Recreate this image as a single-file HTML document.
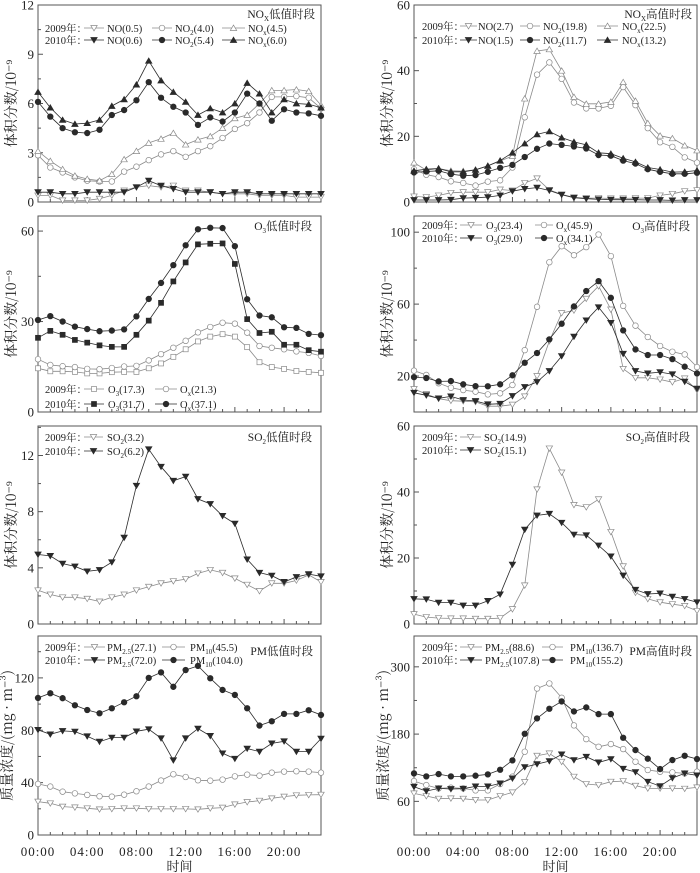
<!DOCTYPE html>
<html><head><meta charset="utf-8">
<style>
html,body{margin:0;padding:0;background:#fff;}
svg{display:block;font-family:"Liberation Serif","Noto Serif CJK SC","Noto Sans CJK SC",serif;}
</style></head>
<body>
<svg id="chart" width="700" height="873" viewBox="0 0 700 873" xmlns="http://www.w3.org/2000/svg"></svg>
<script>
const hours = [0,1,2,3,4,5,6,7,8,9,10,11,12,13,14,15,16,17,18,19,20,21,22,23];
const xTickLabels = ["00:00","04:00","08:00","12:00","16:00","20:00"];
// NOx low
const noxLowNO09  = [0.4,0.4,0.1,0.1,0.1,0.2,0.4,0.7,0.9,1.0,0.9,1.0,0.7,0.7,0.6,0.5,0.5,0.5,0.4,0.4,0.4,0.3,0.3,0.3];
const noxLowNO2_09= [2.85,2.1,1.8,1.5,1.3,1.25,1.25,1.85,2.15,2.55,2.9,3.1,2.75,3.1,3.4,3.9,4.45,4.8,5.45,6.4,6.4,6.45,6.35,5.7];
const noxLowNOx09 = [3.1,2.5,2.0,1.6,1.4,1.3,1.7,2.6,3.1,3.6,3.85,4.2,3.5,3.8,4.0,4.5,5.1,5.3,6.0,6.8,6.8,6.85,6.75,5.9];
const noxLowNO10  = [0.6,0.6,0.5,0.5,0.6,0.6,0.6,0.6,0.9,1.3,1.0,0.8,0.6,0.6,0.6,0.5,0.6,0.6,0.5,0.5,0.5,0.5,0.5,0.5];
const noxLowNO2_10= [6.1,5.2,4.5,4.25,4.2,4.4,5.3,5.6,6.2,7.3,6.35,5.8,5.45,4.7,5.15,4.9,5.45,6.6,6.0,4.95,5.65,5.45,5.4,5.25];
const noxLowNOx10 = [6.7,5.75,5.0,4.75,4.8,5.0,5.85,6.25,7.15,8.6,7.4,6.7,6.1,5.3,5.7,5.45,6.0,7.25,6.6,5.45,6.25,6.0,5.95,5.75];
// NOx high
const noxHiNO09  = [1.7,1.5,2.0,2.8,3.0,3.0,3.0,3.8,3.5,5.8,7.2,3.7,2.3,1.4,1.2,1.2,1.1,1.1,1.2,1.2,2.0,2.5,3.3,3.6];
const noxHiNO2_09= [10,8.3,7.6,6.3,5.8,5.0,6.2,6.6,10.5,25.8,38.8,42.5,37.5,30.3,28.5,28.5,29.3,35,29.5,22.5,18.2,16.8,13.6,12.0];
const noxHiNOx09 = [12,9.7,10.2,9.5,9.4,9.8,11,12.5,14,31.5,46,46.5,40,32,29.9,29.9,30.5,36.5,30.8,24,20.2,19.4,17.2,15.7];
const noxHiNO10  = [0.6,0.6,0.6,0.7,1.2,1.3,1.5,2.0,3.3,4.0,4.4,3.5,2.2,1.3,1.0,0.8,0.7,0.7,0.7,0.6,0.6,0.5,0.6,0.6];
const noxHiNO2_10= [9,9.3,9.5,8.5,8.0,8.2,9.2,10.4,11.3,13.7,16.2,17.8,17.4,16.9,16.3,14.3,14.1,12.6,11.7,10.0,9.2,8.6,8.6,8.9];
const noxHiNOx10 = [9.5,10,10.2,9.2,9.2,9.8,11,12.6,15,17.8,20.6,21.5,19.6,18.3,17.4,15.0,14.7,13.3,12.2,10.5,9.9,9.1,9.2,9.6];
// O3 low
const o3LowO3_09 = [14.5,13.5,13.5,13.3,12.8,12.8,13.2,13.3,13.3,14.5,16.1,18.3,20.8,23.4,25,25.8,25,21.5,16.5,14.9,14.3,13.6,13.3,13.0];
const o3LowOx09  = [17.5,15.6,15.2,14.9,14.3,14.2,14.6,15.1,15.3,17.1,19.2,21.3,23.6,26.4,28.2,29.6,29.3,26.3,21.9,21.3,20.8,20.1,19.6,18.6];
const o3LowO3_10 = [24.6,26.9,25.6,23.9,23.0,22.1,21.6,21.6,25.6,30.3,36.2,43.3,49.6,55.6,55.8,55.9,49.1,30.8,26.2,26.6,22.3,22.3,20.5,20.0];
const o3LowOx10  = [30.5,31.8,30.0,28.3,27.5,26.8,27.0,27.4,31.7,37.5,42.8,48.7,55.3,60.6,61.1,61.0,55.0,37.4,32.0,31.4,28.1,27.9,25.9,25.5];
// O3 high
const o3HiO3_09 = [12.8,10,7.4,6.3,6,5.6,3.2,3.2,4.1,8.7,20,39.4,55,56.5,63,70,57,24,19,19,18.1,16.6,18.7,12.2];
const o3HiOx09  = [23,20.6,16,13.5,12.2,11.3,9.8,10.4,15,34.4,58.5,83.3,92.2,87.2,91.7,98.7,86.7,59,48,41.7,36.7,33.5,32,25];
const o3HiO3_10 = [10.7,9.3,7.6,8.7,6.7,6.1,4.3,4.6,8.9,13.9,16.7,22.8,31.1,41.9,51,58.3,49.6,32.4,22.8,21.5,22.2,21,16.9,13];
const o3HiOx10  = [19.4,18.9,17,17.2,15.4,14.4,14.3,15.4,20.4,27.4,32.8,40.4,49.1,58.7,67.3,72.8,63.5,45.4,34.8,31.7,31.7,29.4,25.2,21.5];
// SO2
const so2Low09 = [2.4,2.1,1.9,1.9,1.8,1.6,1.9,2.1,2.4,2.65,2.9,3.05,3.2,3.6,3.85,3.65,3.25,2.8,2.35,2.9,2.9,3.1,3.5,3.0];
const so2Low10 = [4.95,4.85,4.3,4.1,3.75,3.85,4.4,6.15,9.85,12.45,11.2,10.2,10.5,8.9,8.55,7.7,7.15,4.6,3.65,3.45,3.0,3.35,3.55,3.4];
const so2Hi09  = [3.0,2.1,1.8,1.7,1.7,1.6,1.6,1.8,4.5,11.7,40.8,53.2,45.9,36.1,35.4,37.8,27.9,17.5,9.5,7.6,6.6,6.0,5.5,4.0];
const so2Hi10  = [7.6,7.5,6.5,6.5,5.6,5.6,7.0,9.0,18,28.6,32.9,33.4,30.7,27.1,26.9,23.8,20.5,14.7,10.4,9.1,9.3,8.3,7.6,6.6];
// PM
const pmLow25_09 = [25.5,24.2,21.7,21.1,20.4,19.6,19.9,20.4,20.4,19.9,19.9,19.9,19.9,19.6,20.4,20.9,23.4,25.2,26.2,28,29.3,30.3,30.6,30.8];
const pmLow10_09 = [39,37,33.1,31.8,30.6,29.6,29.3,30.8,33.4,37,41.6,46.4,44.3,41.8,41.5,42.3,44.8,46.1,45.3,47.6,48.4,48.7,48.4,47.6];
const pmLow25_10 = [80.3,76.9,79.5,79,75.4,71.3,74.4,74.4,79.2,80.8,73.9,57.1,73.9,81.3,75.7,62.4,58.3,66,63.7,70,71.6,63.7,63.7,73.6];
const pmLow10_10 = [104.7,108.3,104.5,99.1,95.5,93,96.8,101.4,106,120,124.2,113.2,126,129.2,119.7,110.8,107,96.8,83.6,86.9,92.5,92.5,95.3,91.7];
const pmHi25_09 = [74.3,69.5,64.8,65.3,64.8,62.4,62.4,69.5,76,94.5,141.4,145.6,130.7,104,90.9,89.1,95.1,96.2,87.9,83.2,83.2,83.2,82.6,85];
const pmHi10_09 = [96.2,89.1,83.2,84.4,83.2,79.6,79.6,90.9,104,148.5,261.4,270.3,244.8,195.5,171.1,157.4,162.2,153.3,130.7,115.9,112.9,111.7,109.9,112.9];
const pmHi25_10 = [86.1,78.4,83.2,82,82.6,86.7,86.7,92.1,101,121.2,126.5,131.9,143.8,133.7,139.6,129.5,135.5,118.2,112.3,95.1,87.3,101.6,109.9,106.3];
const pmHi10_10 = [109.9,104.6,108.7,104.6,104.6,105.8,108.1,116.4,133.1,180.6,208,225.2,238.3,220.4,227.6,215.7,215.7,173.5,151.5,136.1,117.6,133.7,141.4,135.5];

const NS="http://www.w3.org/2000/svg";
const svg=document.getElementById('chart');
function mk(tag,attrs,parent){const e=document.createElementNS(NS,tag);for(const k in attrs)e.setAttribute(k,attrs[k]);(parent||svg).appendChild(e);return e;}
const C09="#8a8a8a", C10="#2a2a2a";
const LF=10.5;

function marker(g,type,filled,color,x,y){
  const fill=filled?color:"#fff"; let e;
  if(type==='dtri'){e=mk('path',{d:`M${x-3.2},${y-2.5}L${x+3.2},${y-2.5}L${x},${y+2.9}Z`,fill:fill,stroke:color,'stroke-width':0.7},g);}
  else if(type==='utri'){e=mk('path',{d:`M${x-3.2},${y+2.5}L${x+3.2},${y+2.5}L${x},${y-2.9}Z`,fill:fill,stroke:color,'stroke-width':0.7},g);}
  else if(type==='square'){e=mk('rect',{x:x-2.5,y:y-2.5,width:5,height:5,fill:fill,stroke:color,'stroke-width':0.7},g);}
  else {e=mk('circle',{cx:x,cy:y,r:2.8,fill:fill,stroke:color,'stroke-width':0.7},g);}
  
  
  return e;
}
function richText(parent,x,y,parts,attrs){
  const t=mk('text',Object.assign({x:x,y:y,'font-size':LF,fill:'#222'},attrs||{}),parent);
  parts.forEach(p=>{
    if(typeof p==='string'){const s=mk('tspan',{},t);s.textContent=p;}
    else {const s=mk('tspan',{'font-size':7,dy:3},t);s.textContent=p.t;const r=mk('tspan',{dy:-3},t);r.textContent='\u200b';}
  });
  return t;
}

function panel(cfg){
  const g=mk('g',{});  
  const {x0,x1,top,bottom,ymin,ymax}=cfg;
  const sx=h=>x0+(x1-x0)*h/23;
  const sy=v=>bottom-(bottom-top)*(v-ymin)/(ymax-ymin);
  const box=mk('rect',{x:x0,y:top,width:x1-x0,height:bottom-top,fill:'none',stroke:'#555','stroke-width':1},g);
   
  hours.forEach(h=>{const X=sx(h);const len=h%4===0?5:3;
    const t=mk('line',{x1:X,x2:X,y1:bottom,y2:bottom-len,stroke:'#555','stroke-width':1},g);
     });
  cfg.yticks.forEach((v,i)=>{const Y=sy(v);
    const t=mk('line',{x1:x0,x2:x0+5,y1:Y,y2:Y,stroke:'#555'},g);
     
    const lb=mk('text',{x:x0-4,y:Y+4.5,'text-anchor':'end','font-size':13,fill:'#222'},g);
    lb.textContent=String(v);
     
    const step=cfg.yticks.length>1?cfg.yticks[1]-cfg.yticks[0]:0;
    const mv=v+step/2; if(step && mv<ymax){const my=sy(mv);
      const m=mk('line',{x1:x0,x2:x0+3,y1:my,y2:my,stroke:'#555'},g);
       }
    if(i===0){const pv=v-step/2; if(step && pv>ymin){const my=sy(pv);const m=mk('line',{x1:x0,x2:x0+3,y1:my,y2:my,stroke:'#555'},g);
       }}
  });
  const cy=(top+bottom)/2;
  const yt=mk('text',{x:0,y:0,'font-size':14,fill:'#222','text-anchor':'middle',transform:`translate(${x0-cfg.ytOff},${cy}) rotate(-90)`,'font-family':'"Noto Serif CJK SC","Noto Sans CJK SC",serif'},g);
  yt.textContent=cfg.ytitle;
   
  cfg.series.forEach(s=>{
    const col=s.y2010?C10:C09;
    const sg=mk('g',{},g);  
    const pts=s.data.map((v,i)=>`${sx(hours[i]).toFixed(1)},${sy(v).toFixed(1)}`).join(' ');
    const pl=mk('polyline',{points:pts,fill:'none',stroke:col,'stroke-width':0.8},sg);
     
    s.data.forEach((v,i)=>marker(sg,s.m,s.y2010,col,sx(hours[i]),sy(v)));
  });
  const tt=richText(g,cfg.titleX,cfg.titleY,cfg.title,{'text-anchor':'end','font-size':11.5});
   
  cfg.legend.forEach(row=>{
    const lab=mk('text',{x:row.lx,y:row.y+4,'font-size':LF,fill:'#222'},g);
    lab.textContent=row.label;
     
    row.items.forEach(it=>{
      const col=row.y2010?C10:C09;
      const lg=mk('g',{},g);  
      mk('line',{x1:it.a,x2:it.b,y1:row.y,y2:row.y,stroke:col,'stroke-width':0.8},lg);
      marker(lg,it.m,row.y2010,col,(it.a+it.b)/2,row.y);
      richText(lg,it.tx,row.y+4,it.text,{});
    });
  });
}

const L={x0:38,x1:321}, R={x0:414,x1:697};
const T1={top:5,bottom:202}, T2={top:216,bottom:412}, T3={top:426,bottom:624}, T4={top:636,bottom:835};
const YT="体积分数/10⁻⁹", YPM="质量浓度/(mg · m⁻³)";

panel(Object.assign({name:'panel-nox-low',ymin:0,ymax:12,yticks:[0,3,6,9,12],ytitle:YT,ytOff:22,
  titleX:315,titleY:18,title:['NO',{t:'X'},'低值时段'],
  series:[{name:'series-2009-no',data:noxLowNO09,m:'dtri'},{name:'series-2009-no2',data:noxLowNO2_09,m:'circle'},{name:'series-2009-nox',data:noxLowNOx09,m:'utri'},
          {name:'series-2010-no',data:noxLowNO10,m:'dtri',y2010:1},{name:'series-2010-no2',data:noxLowNO2_10,m:'circle',y2010:1},{name:'series-2010-nox',data:noxLowNOx10,m:'utri',y2010:1}],
  legend:[{label:'2009年：',lx:45,y:28,items:[{a:84,b:104,m:'dtri',tx:107,text:['NO(0.5)']},{a:152,b:172,m:'circle',tx:175,text:['NO',{t:'2'},'(4.0)']},{a:222,b:245,m:'utri',tx:248,text:['NO',{t:'x'},'(4.5)']}]},
          {label:'2010年：',lx:45,y:40,y2010:1,items:[{a:84,b:104,m:'dtri',tx:107,text:['NO(0.6)']},{a:152,b:172,m:'circle',tx:175,text:['NO',{t:'2'},'(5.4)']},{a:222,b:245,m:'utri',tx:248,text:['NO',{t:'x'},'(6.0)']}]}]
},L,T1));

panel(Object.assign({name:'panel-nox-high',ymin:0,ymax:60,yticks:[0,20,40,60],ytitle:YT,ytOff:22,
  titleX:692,titleY:18,title:['NO',{t:'X'},'高值时段'],
  series:[{name:'series-2009-no',data:noxHiNO09,m:'dtri'},{name:'series-2009-no2',data:noxHiNO2_09,m:'circle'},{name:'series-2009-nox',data:noxHiNOx09,m:'utri'},
          {name:'series-2010-no',data:noxHiNO10,m:'dtri',y2010:1},{name:'series-2010-no2',data:noxHiNO2_10,m:'circle',y2010:1},{name:'series-2010-nox',data:noxHiNOx10,m:'utri',y2010:1}],
  legend:[{label:'2009年：',lx:422,y:26,items:[{a:460,b:477,m:'dtri',tx:478,text:['NO(2.7)']},{a:520,b:540,m:'circle',tx:543,text:['NO',{t:'2'},'(19.8)']},{a:597,b:618,m:'utri',tx:622,text:['NO',{t:'x'},'(22.5)']}]},
          {label:'2010年：',lx:422,y:40,y2010:1,items:[{a:460,b:477,m:'dtri',tx:478,text:['NO(1.5)']},{a:520,b:540,m:'circle',tx:543,text:['NO',{t:'2'},'(11.7)']},{a:597,b:618,m:'utri',tx:622,text:['NO',{t:'x'},'(13.2)']}]}]
},R,T1));

panel(Object.assign({name:'panel-o3-low',ymin:0,ymax:65,yticks:[0,30,60],ytitle:YT,ytOff:22,
  titleX:312,titleY:230,title:['O',{t:'3'},'低值时段'],
  series:[{name:'series-2009-o3',data:o3LowO3_09,m:'square'},{name:'series-2009-ox',data:o3LowOx09,m:'circle'},
          {name:'series-2010-o3',data:o3LowO3_10,m:'square',y2010:1},{name:'series-2010-ox',data:o3LowOx10,m:'circle',y2010:1}],
  legend:[{label:'2009年：',lx:45,y:389,items:[{a:84,b:104,m:'square',tx:108,text:['O',{t:'3'},'(17.3)']},{a:155,b:177,m:'circle',tx:180,text:['O',{t:'x'},'(21.3)']}]},
          {label:'2010年：',lx:45,y:404,y2010:1,items:[{a:84,b:104,m:'square',tx:108,text:['O',{t:'3'},'(31.7)']},{a:155,b:177,m:'circle',tx:180,text:['O',{t:'x'},'(37.1)']}]}]
},L,T2));

panel(Object.assign({name:'panel-o3-high',ymin:0,ymax:109,yticks:[20,60,100],ytitle:YT,ytOff:22,
  titleX:690,titleY:230,title:['O',{t:'3'},'高值时段'],
  series:[{name:'series-2009-o3',data:o3HiO3_09,m:'dtri'},{name:'series-2009-ox',data:o3HiOx09,m:'circle'},
          {name:'series-2010-o3',data:o3HiO3_10,m:'dtri',y2010:1},{name:'series-2010-ox',data:o3HiOx10,m:'circle',y2010:1}],
  legend:[{label:'2009年：',lx:422,y:225,items:[{a:460,b:482,m:'dtri',tx:486,text:['O',{t:'3'},'(23.4)']},{a:535,b:553,m:'circle',tx:556,text:['O',{t:'x'},'(45.9)']}]},
          {label:'2010年：',lx:422,y:238,y2010:1,items:[{a:460,b:482,m:'dtri',tx:486,text:['O',{t:'3'},'(29.0)']},{a:535,b:553,m:'circle',tx:556,text:['O',{t:'x'},'(34.1)']}]}]
},R,T2));

panel(Object.assign({name:'panel-so2-low',ymin:0,ymax:14.1,yticks:[0,4,8,12],ytitle:YT,ytOff:22,
  titleX:312,titleY:441,title:['SO',{t:'2'},'低值时段'],
  series:[{name:'series-2009-so2',data:so2Low09,m:'dtri'},{name:'series-2010-so2',data:so2Low10,m:'dtri',y2010:1}],
  legend:[{label:'2009年：',lx:45,y:437,items:[{a:84,b:103,m:'dtri',tx:107,text:['SO',{t:'2'},'(3.2)']}]},
          {label:'2010年：',lx:45,y:451,y2010:1,items:[{a:84,b:103,m:'dtri',tx:107,text:['SO',{t:'2'},'(6.2)']}]}]
},L,T3));

panel(Object.assign({name:'panel-so2-high',ymin:0,ymax:60,yticks:[0,20,40,60],ytitle:YT,ytOff:22,
  titleX:690,titleY:441,title:['SO',{t:'2'},'高值时段'],
  series:[{name:'series-2009-so2',data:so2Hi09,m:'dtri'},{name:'series-2010-so2',data:so2Hi10,m:'dtri',y2010:1}],
  legend:[{label:'2009年：',lx:422,y:437,items:[{a:460,b:481,m:'dtri',tx:484,text:['SO',{t:'2'},'(14.9)']}]},
          {label:'2010年：',lx:422,y:450,y2010:1,items:[{a:460,b:481,m:'dtri',tx:484,text:['SO',{t:'2'},'(15.1)']}]}]
},R,T3));

panel(Object.assign({name:'panel-pm-low',ymin:0,ymax:152,yticks:[0,40,80,120],ytitle:YPM,ytOff:26,
  titleX:313,titleY:655,title:['PM低值时段'],
  series:[{name:'series-2009-pm25',data:pmLow25_09,m:'dtri'},{name:'series-2009-pm10',data:pmLow10_09,m:'circle'},
          {name:'series-2010-pm25',data:pmLow25_10,m:'dtri',y2010:1},{name:'series-2010-pm10',data:pmLow10_10,m:'circle',y2010:1}],
  legend:[{label:'2009年：',lx:45,y:647,items:[{a:84,b:105,m:'dtri',tx:107,text:['PM',{t:'2.5'},'(27.1)']},{a:162,b:185,m:'circle',tx:190,text:['PM',{t:'10'},'(45.5)']}]},
          {label:'2010年：',lx:45,y:660,y2010:1,items:[{a:84,b:105,m:'dtri',tx:107,text:['PM',{t:'2.5'},'(72.0)']},{a:162,b:185,m:'circle',tx:190,text:['PM',{t:'10'},'(104.0)']}]}]
},L,T4));

panel(Object.assign({name:'panel-pm-high',ymin:0,ymax:355,yticks:[60,180,300],ytitle:YPM,ytOff:26,
  titleX:692,titleY:655,title:['PM高值时段'],
  series:[{name:'series-2009-pm25',data:pmHi25_09,m:'dtri'},{name:'series-2009-pm10',data:pmHi10_09,m:'circle'},
          {name:'series-2010-pm25',data:pmHi25_10,m:'dtri',y2010:1},{name:'series-2010-pm10',data:pmHi10_10,m:'circle',y2010:1}],
  legend:[{label:'2009年：',lx:422,y:647,items:[{a:460,b:482,m:'dtri',tx:485,text:['PM',{t:'2.5'},'(88.6)']},{a:542,b:563,m:'circle',tx:570,text:['PM',{t:'10'},'(136.7)']}]},
          {label:'2010年：',lx:422,y:660,y2010:1,items:[{a:460,b:482,m:'dtri',tx:485,text:['PM',{t:'2.5'},'(107.8)']},{a:542,b:563,m:'circle',tx:570,text:['PM',{t:'10'},'(155.2)']}]}]
},R,T4));

[L,R].forEach((P,pi)=>{
  xTickLabels.forEach((lab,i)=>{
    const X=P.x0+(P.x1-P.x0)*(i*4)/23;
    const t=mk('text',{x:X,y:856,'text-anchor':'middle','font-size':13,fill:'#222','letter-spacing':1});
    t.textContent=lab;
    
    
  });
  const xt=mk('text',{x:(P.x0+P.x1)/2,y:871,'text-anchor':'middle','font-size':13,fill:'#222','font-family':'"Noto Serif CJK SC","Noto Sans CJK SC",serif'});
  xt.textContent='时间';
  
  
});
</script>
</body></html>
